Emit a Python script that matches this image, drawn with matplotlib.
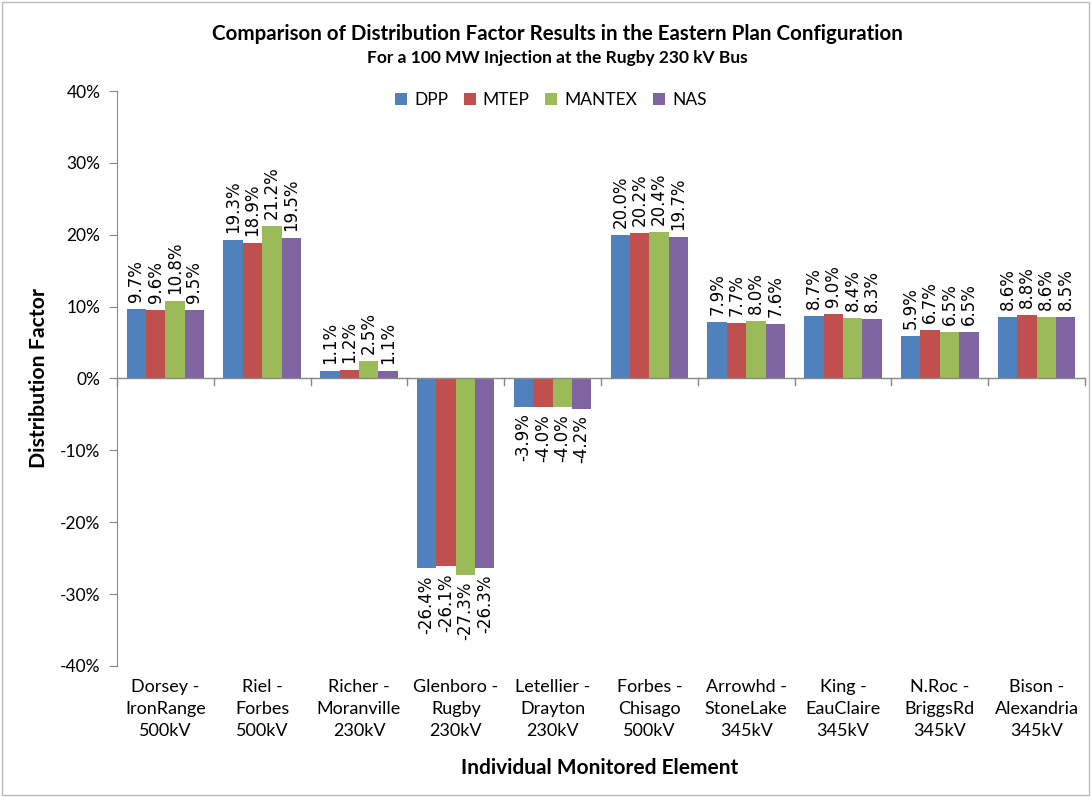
import matplotlib
matplotlib.use("Agg")
import matplotlib.pyplot as plt
import numpy as np
from matplotlib.patches import Rectangle

categories = ["Dorsey -\nIronRange\n500kV", "Riel -\nForbes\n500kV", "Richer -\nMoranville\n230kV",
              "Glenboro -\nRugby\n230kV", "Letellier -\nDrayton\n230kV", "Forbes -\nChisago\n500kV",
              "Arrowhd -\nStoneLake\n345kV", "King -\nEauClaire\n345kV", "N.Roc -\nBriggsRd\n345kV",
              "Bison -\nAlexandria\n345kV"]
series_names = ["DPP", "MTEP", "MANTEX", "NAS"]
dpp = [9.7, 19.3, 1.1, -26.4, -3.9, 20.0, 7.9, 8.7, 5.9, 8.6]
mtep = [9.6, 18.9, 1.2, -26.1, -4.0, 20.2, 7.7, 9.0, 6.7, 8.8]
mantex = [10.8, 21.2, 2.5, -27.3, -4.0, 20.4, 8.0, 8.4, 6.5, 8.6]
nas = [9.5, 19.5, 1.1, -26.3, -4.2, 19.7, 7.6, 8.3, 6.5, 8.5]
yticks = [-40, -30, -20, -10, 0, 10, 20, 30, 40]
colors = ["#4F81BD", "#C0504D", "#9BBB59", "#8064A2"]

fig = plt.figure(figsize=(10.91, 7.97), dpi=100)
ax = fig.add_axes([0.1072, 0.1644, 0.8873, 0.7214])

n = len(categories)
x = np.arange(n)
w = 0.2
data = [dpp, mtep, mantex, nas]
for i, (name, vals, c) in enumerate(zip(series_names, data, colors)):
    pos = x - 0.3 + i * w
    ax.bar(pos, vals, width=w, color=c, label=name, edgecolor="none", zorder=2)
    for px, v in zip(pos, vals):
        if v >= 0:
            ax.annotate(f"{v:.1f}%", (px, v), xytext=(0, 5), textcoords="offset points",
                        rotation=90, ha="center", va="bottom", fontsize=12,
                        family="DejaVu Sans", color="#000000")
        else:
            ax.annotate(f"{v:.1f}%", (px, v), xytext=(0, -5), textcoords="offset points",
                        rotation=90, ha="center", va="top", fontsize=12,
                        family="DejaVu Sans", color="#000000")

ax.set_xlim(-0.5, n - 0.5)
ax.set_ylim(-40, 40)
ax.set_yticks(yticks)
ax.set_yticklabels([f"{t}%" for t in yticks], family="Lato", fontsize=12.5)
ax.tick_params(axis="y", length=6, color="#888888", pad=6)

for s in ["top", "right"]:
    ax.spines[s].set_visible(False)
ax.spines["left"].set_color("#888888")
ax.spines["bottom"].set_visible(False)
ax.axhline(0, color="#888888", lw=1, zorder=3)

ax.set_xticks([])
for b in np.arange(-0.5, n + 0.5, 1.0):
    ax.plot([b, b], [0, -0.9], color="#888888", lw=1, clip_on=False, zorder=3)
for xi, lab in zip(x, categories):
    ax.text(xi, -41.8, lab, ha="center", va="top", family="Lato", fontsize=13,
            linespacing=1.45, transform=ax.transData)

ax.set_ylabel("Distribution Factor", family="Lato", fontsize=15.3, fontweight="bold", labelpad=8)
fig.text(0.55, 0.037, "Individual Monitored Element", ha="center", va="center",
         family="Lato", fontsize=15, fontweight="bold")

fig.text(0.511, 0.957, "Comparison of Distribution Factor Results in the Eastern Plan Configuration",
         ha="center", va="center", family="Lato", fontsize=14.8, fontweight="bold")
fig.text(0.511, 0.927, "For a 100 MW Injection at the Rugby 230 kV Bus",
         ha="center", va="center", family="Lato", fontsize=12.5, fontweight="bold")

leg = ax.legend(loc="upper center", bbox_to_anchor=(0.448, 1.01), ncol=4, frameon=False,
                prop={"family": "Lato", "size": 12.5}, handlelength=0.7, handleheight=0.7,
                handletextpad=0.4, columnspacing=0.9, borderaxespad=0.0)

fig.patches.append(Rectangle((0.002, 0.002), 0.996, 0.996, transform=fig.transFigure,
                             fill=False, edgecolor="#BBBBBB", lw=1))

fig.savefig("out.png", dpi=100)
